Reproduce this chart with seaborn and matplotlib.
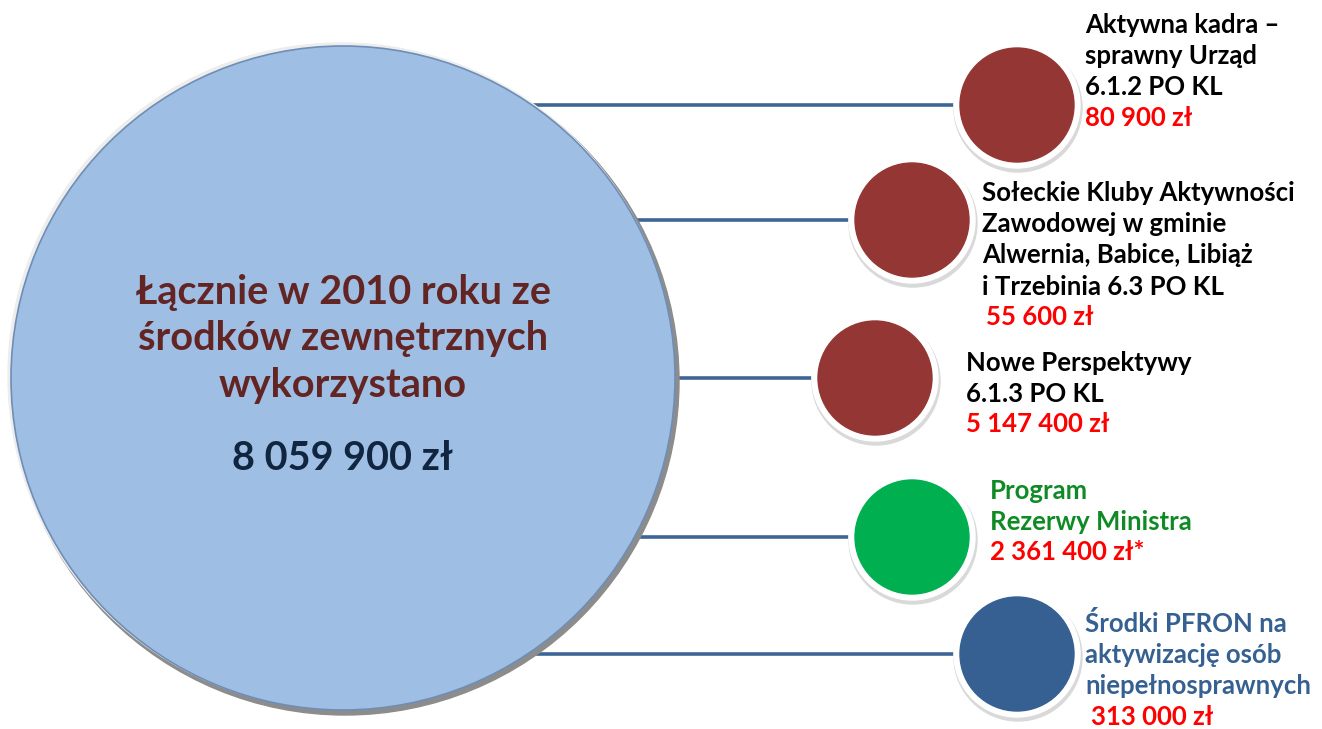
import matplotlib

matplotlib.use("Agg")

import matplotlib.pyplot as plt
import seaborn as sns
from matplotlib.patches import Circle


# data
TOTAL_TITLE = ["Łącznie w 2010 roku ze", "środków zewnętrznych", "wykorzystano"]
TOTAL_AMOUNT = 8059900

PROGRAM_LABELS = [
    "Aktywna kadra –\nsprawny Urząd\n6.1.2 PO KL",
    "Sołeckie Kluby Aktywności\nZawodowej w gminie\nAlwernia, Babice, Libiąż\ni Trzebinia 6.3 PO KL",
    "Nowe Perspektywy\n6.1.3 PO KL",
    "Program\nRezerwy Ministra",
    "Środki PFRON na\naktywizację osób\nniepełnosprawnych",
]
PROGRAM_AMOUNTS = [80900, 55600, 5147400, 2361400, 313000]
AMOUNT_SUFFIXES = ["", "", "", "*", ""]

# layout (pixel coordinates of the 1322x729 canvas)
NODE_X = [1017, 912, 875, 912, 1017]
NODE_Y = [105, 220, 378, 537, 654]
LABEL_X = [1085, 982, 966, 990, 1085]
LABEL_FIRST = [25, 193, 363, 491, 624]
AMOUNT_DX = [0, 4, 0, 0, 6]
NODE_COLORS = ["#943634", "#943634", "#943634", "#00B050", "#366092"]
LABEL_COLORS = ["#000000", "#000000", "#000000", "#108A25", "#366092"]

BIG_CENTER = (343, 378)
BIG_RADIUS = 332
NODE_RADIUS = 57
LINE_STEP = 31.2
TITLE_Y = [292, 338, 385]


def fmt_pln(value):
    return f"{value:,}".replace(",", " ") + " zł"


sns.set_theme(style="white")
plt.rcParams["font.family"] = ["Lato", "DejaVu Sans"]

fig = plt.figure(figsize=(13.22, 7.29), dpi=100)
ax = fig.add_axes([0, 0, 1, 1])
ax.set_xlim(0, 1322)
ax.set_ylim(729, 0)
ax.set_aspect("equal")
ax.axis("off")

# connectors
ax.hlines(NODE_Y, BIG_CENTER[0], NODE_X, colors="#3F6496", linewidth=2.6, zorder=1)

# big circle with soft rim
ax.add_patch(Circle((BIG_CENTER[0] + 2, BIG_CENTER[1] + 3), BIG_RADIUS + 2, color="#8C8C8C", zorder=2))
ax.add_patch(Circle((BIG_CENTER[0] - 2, BIG_CENTER[1] - 2), BIG_RADIUS + 1, color="#EDEDED", zorder=2))
ax.add_patch(Circle(BIG_CENTER, BIG_RADIUS, facecolor="#9EBEE4", edgecolor="#6F8DB5",
                    linewidth=1.2, zorder=3))

for line, y in zip(TOTAL_TITLE, TITLE_Y):
    ax.text(BIG_CENTER[0], y, line, ha="center", va="center", fontsize=28.5,
            fontweight="bold", color="#632523", zorder=4)
ax.text(BIG_CENTER[0], 458, fmt_pln(TOTAL_AMOUNT), ha="center", va="center", fontsize=28.5,
        fontweight="bold", color="#10253F", zorder=4)

# program nodes
for i, label in enumerate(PROGRAM_LABELS):
    cx, cy = NODE_X[i], NODE_Y[i]
    ax.add_patch(Circle((cx + 1, cy + 3), NODE_RADIUS + 7, color="#D9D9D9", zorder=2))
    ax.add_patch(Circle((cx, cy), NODE_RADIUS + 6, color="white", zorder=3))
    ax.add_patch(Circle((cx, cy), NODE_RADIUS, color=NODE_COLORS[i], zorder=4))

    rows = label.split("\n")
    for j, line in enumerate(rows):
        ax.text(LABEL_X[i], LABEL_FIRST[i] + LINE_STEP * j, line, ha="left", va="center",
                fontsize=18.5, fontweight="bold", color=LABEL_COLORS[i], zorder=4)
    ax.text(LABEL_X[i] + AMOUNT_DX[i], LABEL_FIRST[i] + LINE_STEP * len(rows) - 1,
            fmt_pln(PROGRAM_AMOUNTS[i]) + AMOUNT_SUFFIXES[i], ha="left", va="center",
            fontsize=18.5, fontweight="bold", color="#FF0000", zorder=4)

fig.savefig("out.png", dpi=100, facecolor="white")
